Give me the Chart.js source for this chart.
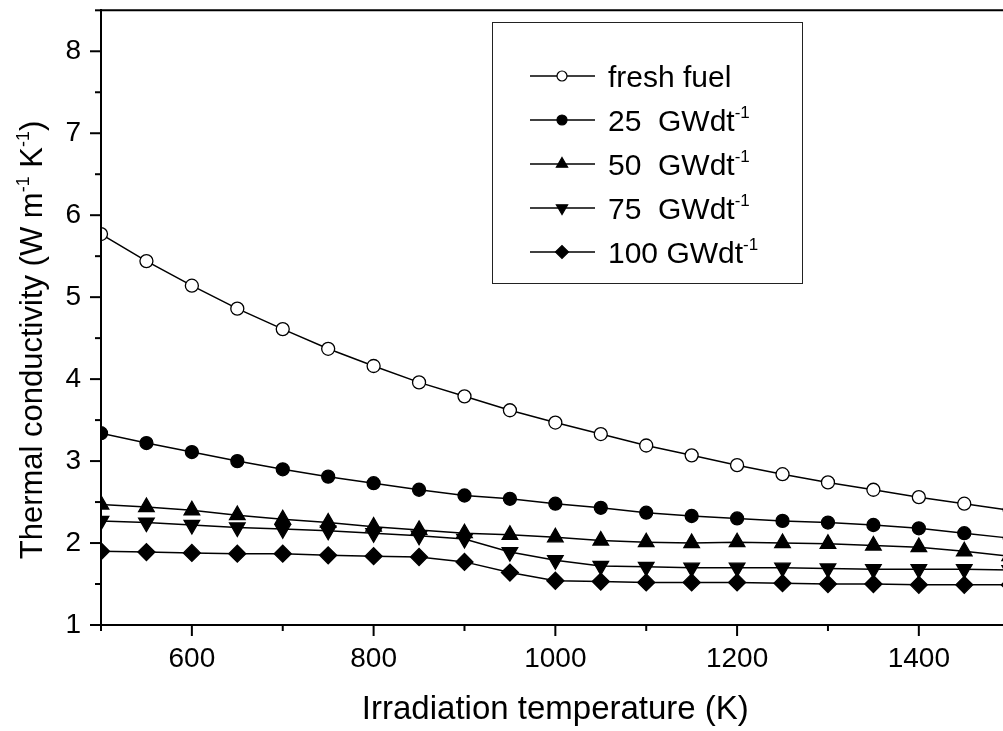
<!DOCTYPE html>
<html>
<head>
<meta charset="utf-8">
<script src="https://cdn.jsdelivr.net/npm/chart.js@4/dist/chart.umd.min.js"></script>
<style>
    html, body { margin: 0; padding: 0; background: #fff; overflow: hidden; }
    /* the plot runs a little past the right edge of the window, as in the original */
    #marco { width: 1020px; height: 731px; }
</style>
</head>
<body>
<div id="marco"><canvas id="grafica_conductividad"></canvas></div>
<script>
/* irradiation temperatures (K) */
const temperaturas = [500, 550, 600, 650, 700, 750, 800, 850, 900, 950, 1000,
                      1050, 1100, 1150, 1200, 1250, 1300, 1350, 1400, 1450, 1500];

/* thermal conductivity (W m-1 K-1) for each burnup */
const fresh_fuel  = [5.77, 5.44, 5.14, 4.86, 4.61, 4.37, 4.16, 3.96, 3.79, 3.62, 3.47,
                     3.33, 3.19, 3.07, 2.95, 2.84, 2.74, 2.65, 2.56, 2.48, 2.40];
const quemado_25  = [3.34, 3.22, 3.11, 3.00, 2.90, 2.81, 2.73, 2.65, 2.58, 2.54, 2.48,
                     2.43, 2.37, 2.33, 2.30, 2.27, 2.25, 2.22, 2.18, 2.12, 2.06];
const quemado_50  = [2.47, 2.44, 2.40, 2.34, 2.29, 2.25, 2.20, 2.16, 2.12, 2.10, 2.07,
                     2.03, 2.01, 2.00, 2.01, 2.00, 1.99, 1.97, 1.95, 1.90, 1.84];
const quemado_75  = [2.27, 2.25, 2.22, 2.19, 2.17, 2.15, 2.12, 2.09, 2.05, 1.89, 1.79,
                     1.72, 1.71, 1.70, 1.70, 1.70, 1.69, 1.68, 1.68, 1.68, 1.67];
const quemado_100 = [1.90, 1.89, 1.88, 1.87, 1.87, 1.85, 1.84, 1.83, 1.77, 1.64, 1.54,
                     1.53, 1.52, 1.52, 1.52, 1.51, 1.50, 1.50, 1.49, 1.49, 1.49];

/* legend texts: label plus superscript */
const nombres_series = ['fresh fuel', '25  GWdt', '50  GWdt', '75  GWdt', '100 GWdt'];
const sup_series     = ['', '-1', '-1', '-1', '-1'];

/* labelled (major) ticks, the rest of the scale ticks are minor */
const etiquetas_x = [600, 800, 1000, 1200, 1400];
const etiquetas_y = [1, 2, 3, 4, 5, 6, 7, 8];

/* axis titles, y in pieces (true = superscript) */
const titulo_x = 'Irradiation temperature (K)';
const titulo_y = [['Thermal conductivity (W m', false], ['-1', true], [' K', false], ['-1', true], [')', false]];

const FUENTE = '"Liberation Sans", Arial, sans-serif';
Chart.defaults.font.family = FUENTE;
Chart.defaults.color = '#000';

/* builds {x, y} points from the temperature list */
function puntos(valores) {
    return temperaturas.map((t, i) => ({ x: t, y: valores[i] }));
}

/* one dataset per burnup, all black lines */
function serie(nombre, valores, estilo, relleno, radio, giro) {
    return {
        label: nombre,
        data: puntos(valores),
        borderColor: '#000',
        borderWidth: 1.5,
        pointStyle: estilo,
        pointRotation: giro || 0,
        pointRadius: radio,
        pointBackgroundColor: relleno,
        pointBorderColor: '#000',
        pointBorderWidth: 1.3,
        tension: 0
    };
}

/* draws a run of text with superscripts, starting at x, baseline y */
function texto_sup(ctx, piezas, x, y, tam) {
    const tam_sup = Math.round(tam * 0.58);
    piezas.forEach(([txt, sup]) => {
        ctx.font = (sup ? tam_sup : tam) + 'px ' + FUENTE;
        ctx.fillText(txt, x, sup ? y - tam * 0.42 : y);
        x += ctx.measureText(txt).width;
    });
}

function ancho_sup(ctx, piezas, tam) {
    const tam_sup = Math.round(tam * 0.58);
    return piezas.reduce((s, [txt, sup]) => {
        ctx.font = (sup ? tam_sup : tam) + 'px ' + FUENTE;
        return s + ctx.measureText(txt).width;
    }, 0);
}

/* frame, major/minor ticks, axis titles and the boxed legend */
const plugin_adornos = {
    id: 'adornos',
    afterDraw(chart) {
        const { ctx, chartArea: a, scales: { x, y } } = chart;
        ctx.save();
        ctx.strokeStyle = '#000';
        ctx.lineWidth = 2;

        ctx.beginPath();
        ctx.moveTo(a.left, a.bottom); ctx.lineTo(a.left, a.top);
        ctx.lineTo(a.right, a.top); ctx.lineTo(a.right, a.bottom);
        ctx.lineTo(a.left, a.bottom);
        ctx.stroke();

        x.ticks.forEach(t => {
            const px = x.getPixelForValue(t.value);
            const largo = etiquetas_x.includes(t.value) ? 11 : 6;
            ctx.beginPath(); ctx.moveTo(px, a.bottom); ctx.lineTo(px, a.bottom + largo); ctx.stroke();
        });
        y.ticks.forEach(t => {
            const py = y.getPixelForValue(t.value);
            const largo = etiquetas_y.includes(t.value) ? 11 : 6;
            ctx.beginPath(); ctx.moveTo(a.left, py); ctx.lineTo(a.left - largo, py); ctx.stroke();
        });

        ctx.fillStyle = '#000';
        ctx.textBaseline = 'alphabetic';

        /* x title, centred on the plot area */
        ctx.textAlign = 'center';
        ctx.font = '33px ' + FUENTE;
        ctx.fillText(titulo_x, (a.left + a.right) / 2, 719);

        /* rotated y title */
        ctx.textAlign = 'left';
        const tam_titulo = 31;
        ctx.save();
        ctx.translate(31, 340);
        ctx.rotate(-Math.PI / 2);
        const ancho = ancho_sup(ctx, titulo_y, tam_titulo);
        texto_sup(ctx, titulo_y, -ancho / 2, tam_titulo * 0.36, tam_titulo);
        ctx.restore();

        /* legend box */
        ctx.lineWidth = 1;
        ctx.strokeStyle = '#222';
        ctx.strokeRect(492.5, 22.5, 310, 261);
        const tam_ley = 30;
        chart.data.datasets.forEach((ds, i) => {
            const fy = 76 + i * 44;
            ctx.strokeStyle = '#000';
            ctx.lineWidth = 1.5;
            ctx.beginPath(); ctx.moveTo(530, fy); ctx.lineTo(595, fy); ctx.stroke();
            ctx.fillStyle = ds.pointBackgroundColor;
            ctx.lineWidth = 1.2;
            const radio = ds.pointStyle === 'circle' ? 5 : 6.5;
            Chart.helpers.drawPoint(ctx, { pointStyle: ds.pointStyle, rotation: ds.pointRotation, radius: radio, borderWidth: 1.2 }, 562, fy);
            ctx.fillStyle = '#000';
            const piezas = [[nombres_series[i], false]];
            if (sup_series[i]) piezas.push([sup_series[i], true]);
            texto_sup(ctx, piezas, 608, fy + tam_ley * 0.36, tam_ley);
        });
        ctx.restore();
    }
};

new Chart(document.getElementById('grafica_conductividad'), {
    type: 'line',
    data: {
        datasets: [
            serie('fresh fuel', fresh_fuel, 'circle', '#fff', 6.5),
            serie('25 GWdt-1', quemado_25, 'circle', '#000', 6.5),
            serie('50 GWdt-1', quemado_50, 'triangle', '#000', 9),
            serie('75 GWdt-1', quemado_75, 'triangle', '#000', 9, 180),
            serie('100 GWdt-1', quemado_100, 'rectRot', '#000', 8.5)
        ]
    },
    options: {
        responsive: true,
        maintainAspectRatio: false,
        animation: false,
        layout: { padding: { top: 7, right: 8, left: 0, bottom: 0 } },
        plugins: { legend: { display: false }, tooltip: { enabled: false } },
        scales: {
            x: {
                type: 'linear',
                min: 500,
                max: 1500,
                afterFit: s => { s.height = 106; s.paddingLeft = 0; s.paddingRight = 0; },
                grid: { display: false, drawTicks: false },
                border: { display: true, color: '#000', width: 2 },
                ticks: {
                    stepSize: 100,
                    padding: 17,
                    font: { size: 28 },
                    maxRotation: 0,
                    autoSkip: false,
                    callback: v => etiquetas_x.includes(v) ? String(v) : ''
                }
            },
            y: {
                min: 1,
                max: 8.5,
                afterFit: s => { s.width = 101; s.paddingTop = 0; s.paddingBottom = 0; },
                grid: { display: false, drawTicks: false },
                border: { display: true, color: '#000', width: 2 },
                ticks: {
                    stepSize: 0.5,
                    padding: 20,
                    font: { size: 28 },
                    autoSkip: false,
                    callback: v => etiquetas_y.includes(v) ? String(v) : ''
                }
            }
        }
    },
    plugins: [plugin_adornos]
});
</script>
</body>
</html>
